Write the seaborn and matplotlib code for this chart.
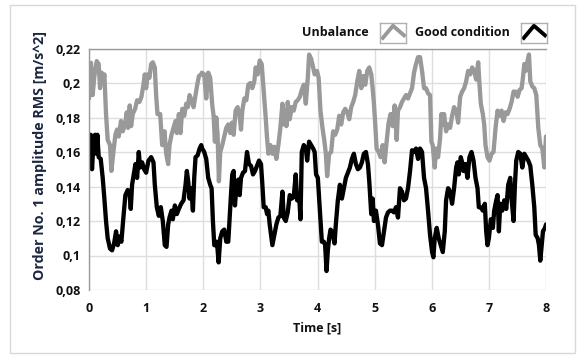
import matplotlib
matplotlib.use("Agg")
import matplotlib.pyplot as plt
import seaborn as sns
import pandas as pd
from matplotlib.patches import Rectangle
from matplotlib.ticker import FuncFormatter

# ---------------- data ----------------
unbalance_t = [0.00, 0.018, 0.035, 0.064, 0.094, 0.135, 0.170, 0.193, 0.222, 0.251, 0.269, 0.298, 0.327,
               0.368, 0.392, 0.427, 0.462, 0.491, 0.520, 0.561, 0.591, 0.632, 0.661, 0.684, 0.713, 0.737,
               0.766, 0.807, 0.842, 0.883, 0.918, 0.953, 0.977, 1.000, 1.029, 1.058, 1.088, 1.117, 1.152,
               1.175, 1.199, 1.246, 1.281, 1.322, 1.351, 1.386, 1.409, 1.444, 1.480, 1.515, 1.538, 1.573,
               1.602, 1.632, 1.667, 1.702, 1.731, 1.760, 1.795, 1.830, 1.865, 1.895, 1.924, 1.965, 1.976,
               2.017, 2.052, 2.087, 2.122, 2.158, 2.181, 2.204, 2.228, 2.251, 2.274, 2.298, 2.333, 2.368,
               2.403, 2.438, 2.473, 2.503, 2.532, 2.567, 2.602, 2.637, 2.661, 2.684, 2.719, 2.754, 2.789,
               2.824, 2.859, 2.894, 2.918, 2.953, 2.988, 3.023, 3.046, 3.070, 3.093, 3.117, 3.140, 3.175,
               3.210, 3.245, 3.280, 3.315, 3.350, 3.386, 3.409, 3.432, 3.456, 3.479, 3.514, 3.549, 3.584,
               3.619, 3.654, 3.690, 3.725, 3.760, 3.795, 3.830, 3.853, 3.889, 3.924, 3.950, 3.990, 4.020,
               4.052, 4.087, 4.122, 4.146, 4.169, 4.204, 4.239, 4.274, 4.310, 4.345, 4.380, 4.415, 4.450,
               4.485, 4.520, 4.555, 4.590, 4.625, 4.660, 4.696, 4.731, 4.766, 4.801, 4.836, 4.871, 4.906,
               4.941, 4.965, 4.988, 5.011, 5.035, 5.070, 5.105, 5.140, 5.175, 5.210, 5.245, 5.280, 5.316,
               5.351, 5.386, 5.409, 5.444, 5.479, 5.514, 5.549, 5.584, 5.619, 5.655, 5.690, 5.725, 5.760,
               5.795, 5.830, 5.865, 5.900, 5.935, 5.970, 5.994, 6.017, 6.052, 6.076, 6.111, 6.146, 6.169,
               6.193, 6.216, 6.251, 6.286, 6.321, 6.356, 6.391, 6.427, 6.462, 6.497, 6.532, 6.567, 6.602,
               6.637, 6.672, 6.707, 6.742, 6.777, 6.813, 6.836, 6.859, 6.894, 6.918, 6.941, 6.976, 7.011,
               7.046, 7.081, 7.117, 7.152, 7.187, 7.222, 7.257, 7.292, 7.327, 7.362, 7.397, 7.432, 7.468,
               7.503, 7.538, 7.573, 7.596, 7.620, 7.643, 7.678, 7.702, 7.725, 7.760, 7.795, 7.830, 7.865,
               7.900, 7.936, 7.971, 8.000]
unbalance_v = [0.191, 0.210, 0.2117, 0.193, 0.204, 0.2127, 0.211, 0.197, 0.206, 0.201, 0.205, 0.182, 0.167,
               0.164, 0.149, 0.160, 0.170, 0.173, 0.169, 0.178, 0.172, 0.176, 0.183, 0.174, 0.187, 0.175,
               0.182, 0.185, 0.190, 0.189, 0.192, 0.199, 0.205, 0.197, 0.205, 0.203, 0.211, 0.212, 0.209,
               0.193, 0.182, 0.182, 0.164, 0.172, 0.159, 0.153, 0.164, 0.170, 0.174, 0.178, 0.171, 0.182,
               0.171, 0.185, 0.181, 0.188, 0.186, 0.193, 0.190, 0.186, 0.193, 0.199, 0.204, 0.205, 0.206,
               0.205, 0.191, 0.206, 0.203, 0.187, 0.181, 0.166, 0.180, 0.170, 0.143, 0.160, 0.164, 0.169,
               0.174, 0.176, 0.171, 0.177, 0.170, 0.184, 0.186, 0.181, 0.173, 0.184, 0.191, 0.190, 0.199,
               0.200, 0.197, 0.201, 0.209, 0.205, 0.213, 0.211, 0.201, 0.191, 0.180, 0.168, 0.159, 0.164,
               0.159, 0.163, 0.156, 0.164, 0.174, 0.188, 0.176, 0.184, 0.175, 0.189, 0.179, 0.186, 0.184,
               0.189, 0.190, 0.192, 0.196, 0.199, 0.188, 0.203, 0.2165, 0.214, 0.209, 0.205, 0.207, 0.203,
               0.184, 0.174, 0.166, 0.159, 0.146, 0.159, 0.160, 0.172, 0.170, 0.173, 0.181, 0.176, 0.183,
               0.185, 0.183, 0.179, 0.186, 0.189, 0.193, 0.201, 0.207, 0.197, 0.204, 0.199, 0.207, 0.209,
               0.205, 0.197, 0.188, 0.176, 0.162, 0.160, 0.157, 0.164, 0.154, 0.166, 0.177, 0.182, 0.175,
               0.187, 0.167, 0.184, 0.186, 0.189, 0.191, 0.193, 0.191, 0.194, 0.197, 0.206, 0.211, 0.215,
               0.215, 0.207, 0.197, 0.197, 0.194, 0.193, 0.166, 0.164, 0.151, 0.162, 0.157, 0.168, 0.182,
               0.176, 0.182, 0.172, 0.176, 0.174, 0.181, 0.186, 0.184, 0.177, 0.192, 0.195, 0.197, 0.201,
               0.207, 0.205, 0.209, 0.207, 0.202, 0.212, 0.199, 0.188, 0.182, 0.176, 0.164, 0.157, 0.155,
               0.159, 0.160, 0.174, 0.184, 0.181, 0.184, 0.178, 0.183, 0.182, 0.185, 0.189, 0.195, 0.195,
               0.192, 0.196, 0.197, 0.203, 0.211, 0.207, 0.213, 0.2165, 0.201, 0.198, 0.197, 0.193, 0.174,
               0.164, 0.162, 0.151, 0.169]

good_t = [0.000, 0.029, 0.053, 0.076, 0.105, 0.129, 0.146, 0.170, 0.205, 0.240, 0.269, 0.298, 0.327, 0.368,
          0.404, 0.439, 0.474, 0.503, 0.532, 0.567, 0.602, 0.637, 0.678, 0.708, 0.731, 0.754, 0.784, 0.813,
          0.842, 0.871, 0.895, 0.930, 0.965, 1.000, 1.041, 1.088, 1.129, 1.152, 1.187, 1.222, 1.257, 1.292,
          1.327, 1.357, 1.386, 1.409, 1.444, 1.468, 1.503, 1.538, 1.573, 1.614, 1.655, 1.690, 1.713, 1.737,
          1.760, 1.789, 1.819, 1.842, 1.865, 1.901, 1.936, 1.965, 1.982, 2.017, 2.052, 2.087, 2.122, 2.146,
          2.169, 2.193, 2.216, 2.239, 2.269, 2.298, 2.333, 2.368, 2.403, 2.438, 2.462, 2.485, 2.508, 2.532,
          2.555, 2.579, 2.614, 2.637, 2.661, 2.696, 2.731, 2.766, 2.801, 2.836, 2.871, 2.906, 2.941, 2.976,
          3.011, 3.035, 3.058, 3.093, 3.117, 3.140, 3.163, 3.187, 3.210, 3.245, 3.280, 3.315, 3.350, 3.386,
          3.409, 3.444, 3.479, 3.514, 3.549, 3.584, 3.619, 3.643, 3.678, 3.702, 3.725, 3.760, 3.795, 3.819,
          3.853, 3.889, 3.924, 3.950, 3.975, 4.006, 4.041, 4.076, 4.111, 4.134, 4.158, 4.181, 4.204, 4.228,
          4.251, 4.274, 4.298, 4.321, 4.356, 4.392, 4.427, 4.462, 4.497, 4.532, 4.567, 4.602, 4.637, 4.672,
          4.707, 4.742, 4.777, 4.812, 4.848, 4.883, 4.906, 4.941, 4.965, 4.988, 5.023, 5.058, 5.093, 5.129,
          5.164, 5.199, 5.234, 5.269, 5.304, 5.339, 5.374, 5.409, 5.444, 5.479, 5.514, 5.549, 5.584, 5.620,
          5.655, 5.690, 5.725, 5.760, 5.795, 5.830, 5.865, 5.900, 5.935, 5.970, 6.006, 6.029, 6.052, 6.087,
          6.122, 6.158, 6.193, 6.228, 6.251, 6.286, 6.321, 6.356, 6.391, 6.427, 6.450, 6.473, 6.508, 6.532,
          6.555, 6.590, 6.625, 6.660, 6.696, 6.731, 6.766, 6.801, 6.824, 6.859, 6.894, 6.929, 6.953, 6.976,
          7.000, 7.035, 7.070, 7.093, 7.129, 7.152, 7.175, 7.199, 7.234, 7.269, 7.304, 7.339, 7.374, 7.397,
          7.432, 7.456, 7.479, 7.514, 7.550, 7.585, 7.620, 7.655, 7.690, 7.725, 7.760, 7.795, 7.819, 7.854,
          7.877, 7.900, 7.924, 7.947, 7.982, 8.000]
good_v = [0.155, 0.170, 0.150, 0.164, 0.170, 0.159, 0.170, 0.157, 0.156, 0.145, 0.133, 0.120, 0.110, 0.104,
          0.103, 0.107, 0.114, 0.106, 0.111, 0.108, 0.122, 0.135, 0.138, 0.137, 0.127, 0.141, 0.147, 0.153,
          0.145, 0.160, 0.151, 0.154, 0.150, 0.148, 0.155, 0.157, 0.154, 0.141, 0.128, 0.123, 0.128, 0.120,
          0.106, 0.105, 0.118, 0.122, 0.126, 0.121, 0.129, 0.124, 0.127, 0.130, 0.132, 0.141, 0.149, 0.143,
          0.133, 0.139, 0.126, 0.145, 0.157, 0.158, 0.162, 0.164, 0.162, 0.160, 0.156, 0.145, 0.141, 0.139,
          0.120, 0.106, 0.106, 0.108, 0.096, 0.110, 0.114, 0.115, 0.108, 0.108, 0.122, 0.135, 0.147, 0.149,
          0.129, 0.139, 0.144, 0.135, 0.145, 0.148, 0.149, 0.160, 0.153, 0.152, 0.147, 0.149, 0.152, 0.155,
          0.153, 0.141, 0.128, 0.128, 0.124, 0.126, 0.118, 0.112, 0.106, 0.112, 0.118, 0.122, 0.123, 0.137,
          0.122, 0.120, 0.125, 0.135, 0.133, 0.134, 0.147, 0.132, 0.135, 0.121, 0.160, 0.164, 0.162, 0.155,
          0.166, 0.164, 0.162, 0.160, 0.147, 0.145, 0.126, 0.108, 0.108, 0.106, 0.091, 0.103, 0.110, 0.115,
          0.114, 0.111, 0.107, 0.118, 0.132, 0.141, 0.133, 0.139, 0.145, 0.148, 0.151, 0.156, 0.159, 0.153,
          0.150, 0.151, 0.154, 0.159, 0.160, 0.153, 0.143, 0.124, 0.133, 0.120, 0.126, 0.118, 0.107, 0.106,
          0.114, 0.122, 0.125, 0.126, 0.126, 0.125, 0.128, 0.122, 0.139, 0.137, 0.132, 0.133, 0.139, 0.149,
          0.161, 0.160, 0.162, 0.156, 0.162, 0.160, 0.145, 0.139, 0.126, 0.112, 0.102, 0.099, 0.110, 0.116,
          0.110, 0.106, 0.102, 0.114, 0.132, 0.139, 0.137, 0.130, 0.139, 0.151, 0.154, 0.147, 0.157, 0.154,
          0.149, 0.153, 0.145, 0.157, 0.160, 0.155, 0.145, 0.139, 0.128, 0.128, 0.126, 0.130, 0.114, 0.106,
          0.110, 0.121, 0.116, 0.126, 0.132, 0.135, 0.114, 0.130, 0.126, 0.132, 0.127, 0.141, 0.145, 0.133,
          0.120, 0.141, 0.155, 0.160, 0.159, 0.151, 0.159, 0.157, 0.155, 0.152, 0.141, 0.128, 0.112, 0.110,
          0.106, 0.097, 0.106, 0.114, 0.116, 0.118]

series_names = ["Unbalance", "Good condition"]
series_colors = ["#999999", "#000000"]
x_ticks = [0, 1, 2, 3, 4, 5, 6, 7, 8]
y_ticks = [0.08, 0.10, 0.12, 0.14, 0.16, 0.18, 0.20, 0.22]
x_label = "Time [s]"
y_label = "Order No. 1 amplitude RMS [m/s^2]"

# ---------------- figure ----------------
sns.set_theme(style="white")
plt.rcParams["font.family"] = ["Open Sans", "DejaVu Sans"]

df = pd.concat([
    pd.DataFrame({"t": unbalance_t, "v": unbalance_v, "series": series_names[0]}),
    pd.DataFrame({"t": good_t, "v": good_v, "series": series_names[1]}),
])

W, H = 577, 356
fig = plt.figure(figsize=(W / 100, H / 100), dpi=100)
fig.patch.set_facecolor("white")
ax = fig.add_axes([89 / W, 1 - 290 / H, (546 - 89) / W, (290 - 48.5) / H])

sns.lineplot(data=df, x="t", y="v", hue="series", palette=series_colors,
             hue_order=series_names, linewidth=3.1, ax=ax, legend=False,
             estimator=None, sort=False)
for ln in ax.get_lines():
    ln.set_solid_joinstyle("round")

ax.set_xlim(x_ticks[0], x_ticks[-1])
ax.set_ylim(y_ticks[0], y_ticks[-1])
ax.set_xticks(x_ticks)
ax.set_yticks(y_ticks)
ax.yaxis.set_major_formatter(FuncFormatter(lambda v, p: ("%g" % round(v, 3)).replace(".", ",")))
ax.xaxis.set_major_formatter(FuncFormatter(lambda v, p: "%g" % v))

ax.grid(True, color="#dedede", linewidth=1.0)
ax.set_axisbelow(True)
for side in ["right", "bottom"]:
    ax.spines[side].set_visible(False)
for side in ["left", "top"]:
    ax.spines[side].set_visible(True)
    ax.spines[side].set_color("#9a9a9a")
    ax.spines[side].set_linewidth(1.0)

ax.tick_params(axis="both", which="major", direction="out", length=4, width=1,
               color="#444444", labelsize=9, labelcolor="#111111", pad=2)
ax.tick_params(axis="x", pad=5)
for lab in ax.get_xticklabels() + ax.get_yticklabels():
    lab.set_fontweight("bold")

ax.set_xlabel(x_label, fontsize=9, fontweight="bold", color="#111111", labelpad=4)
ax.set_ylabel(y_label, fontsize=10.3, fontweight="bold", color="#1b2640")
ax.yaxis.set_label_coords(-0.092, 0.559)

# ---------------- legend: label, then a framed chevron icon ----------------
legend_text_right = [369, 510]     # px, right end of each label
legend_icon_left = [380, 521]      # px, left edge of each icon box
for name, color, tx, ix in zip(series_names, series_colors, legend_text_right, legend_icon_left):
    fig.text(tx / W, 1 - 33 / H, name, ha="right", va="center", fontsize=9,
             fontweight="bold", color="#111111")
    iax = fig.add_axes([ix / W, 1 - 43 / H, 26 / W, 20 / H])
    iax.set_xlim(0, 1)
    iax.set_ylim(0, 1)
    iax.plot([0.06, 0.5, 0.98], [0.18, 0.86, 0.32], color=color, linewidth=2.8,
             solid_joinstyle="miter", solid_capstyle="butt")
    iax.set_xticks([])
    iax.set_yticks([])
    iax.set_facecolor("white")
    for s in iax.spines.values():
        s.set_visible(True)
        s.set_color("#b0b0b0")
        s.set_linewidth(1.0)

# panel border
fig.add_artist(Rectangle((10 / W, 3 / H), 565 / W, 348 / H, transform=fig.transFigure,
                         fill=False, edgecolor="#d8d8d8", linewidth=1.0))

fig.savefig("out.png", dpi=100, facecolor="white")
